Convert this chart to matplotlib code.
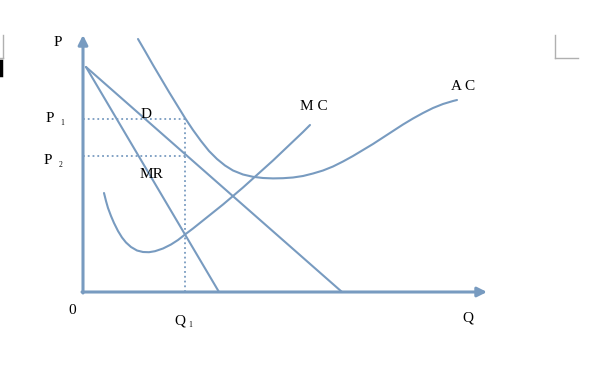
import numpy as np
import matplotlib.pyplot as plt
from matplotlib.lines import Line2D

# Dane (Q, P)
ac_q = [55, 62, 70, 78, 86, 94, 102, 110, 118, 126, 134, 142, 150, 160, 170,
        180, 190, 200, 210, 220, 230, 240, 250, 260, 270, 280, 290, 300, 310,
        320, 330, 340, 350, 360, 370, 374]
ac_p = [253, 241, 227, 213.5, 200, 187, 174, 162, 151, 141, 133, 126.5, 121.5,
        117.5, 115.2, 114, 113.6, 113.8, 114.5, 116, 118.5, 121.5, 125.5, 130.5,
        136, 142, 148, 154.5, 161, 167.5, 173.5, 179, 184, 188, 191, 192]

mc_q = [21, 23, 25, 28, 31, 35, 39, 43, 48, 54, 60, 66, 72, 80, 88, 95, 102,
        110, 120, 130, 140, 150, 160, 170, 180, 190, 200, 210, 220, 227]
mc_p = [99, 91, 84, 76, 69, 61, 54.5, 49.5, 45, 41.5, 40, 39.8, 40.8, 43.5,
        47.5, 52, 57.5, 63.5, 71.5, 79.5, 87.5, 96, 104.5, 113.5, 122.5, 131.5,
        141, 150.5, 160, 167]

d_q = [3, 259]
d_p = [225, 0]
mr_q = [3, 136]
mr_p = [225, 0]

p1, p2, q1 = 173, 136, 102
q_max, p_max = 404, 257

col = '#789bc0'
fnt = 'Liberation Serif'

fig = plt.figure(figsize=(5.93, 3.91), dpi=100)
ax = fig.add_axes([0, 0, 1, 1])
ax.set_xlim(-83, 510)
ax.set_ylim(-99, 292)
ax.axis('off')

# Osie ze strzalkami
ax.annotate('', xy=(0, p_max), xytext=(0, -1),
            arrowprops=dict(arrowstyle='-|>', color=col, lw=2.2, mutation_scale=14,
                            shrinkA=0, shrinkB=0))
ax.annotate('', xy=(q_max, 0), xytext=(-1, 0),
            arrowprops=dict(arrowstyle='-|>', color=col, lw=2.2, mutation_scale=14,
                            shrinkA=0, shrinkB=0))

# Krzywe
lk = dict(color=col, lw=1.5, solid_joinstyle='round', solid_capstyle='round')
ax.plot(d_q, d_p, **lk)
ax.plot(mr_q, mr_p, **lk)
ax.plot(ac_q, ac_p, **lk)
ax.plot(mc_q, mc_p, **lk)

# Linie kropkowane
ax.plot([0, q1], [p1, p1], color=col, lw=1.3, ls=':')
ax.plot([0, q1], [p2, p2], color=col, lw=1.3, ls=':')
ax.plot([q1, q1], [0, p1], color=col, lw=1.3, ls=':')

# Etykiety
kw = dict(fontsize=11, family=fnt, ha='center', va='center')
sub = dict(fontsize=5.5, family=fnt, ha='center', va='center')
ax.text(-25, 249, 'P', **kw)
ax.text(-33, 173, 'P', **kw)
ax.text(-21, 169, '1', **sub)
ax.text(-35, 132, 'P', **kw)
ax.text(-22, 127, '2', **sub)
ax.text(63, 178, 'D', **kw)
ax.text(68, 118, 'MR', **kw)
ax.text(231, 185, 'M C', **kw)
ax.text(380, 206, 'A C', **kw)
ax.text(-11, -18, '0', **kw)
ax.text(97, -29, 'Q', **kw)
ax.text(107, -33, '1', **sub)
ax.text(385, -26, 'Q', **kw)

# Znaczniki rogow strony
W, H = 593, 391
grey = '#b0b0b0'
fig.add_artist(Line2D([3 / W, 3 / W], [1 - 35 / H, 1 - 58 / H], color=grey, lw=1))
fig.add_artist(Line2D([0, 3 / W], [1 - 58 / H, 1 - 58 / H], color=grey, lw=1))
fig.add_artist(Line2D([1 / W, 1 / W], [1 - 61 / H, 1 - 75 / H], color='black', lw=2.5))
fig.add_artist(Line2D([555 / W, 555 / W], [1 - 35 / H, 1 - 58 / H], color=grey, lw=1))
fig.add_artist(Line2D([555 / W, 578 / W], [1 - 58 / H, 1 - 58 / H], color=grey, lw=1))

fig.savefig('out.png', dpi=100)
